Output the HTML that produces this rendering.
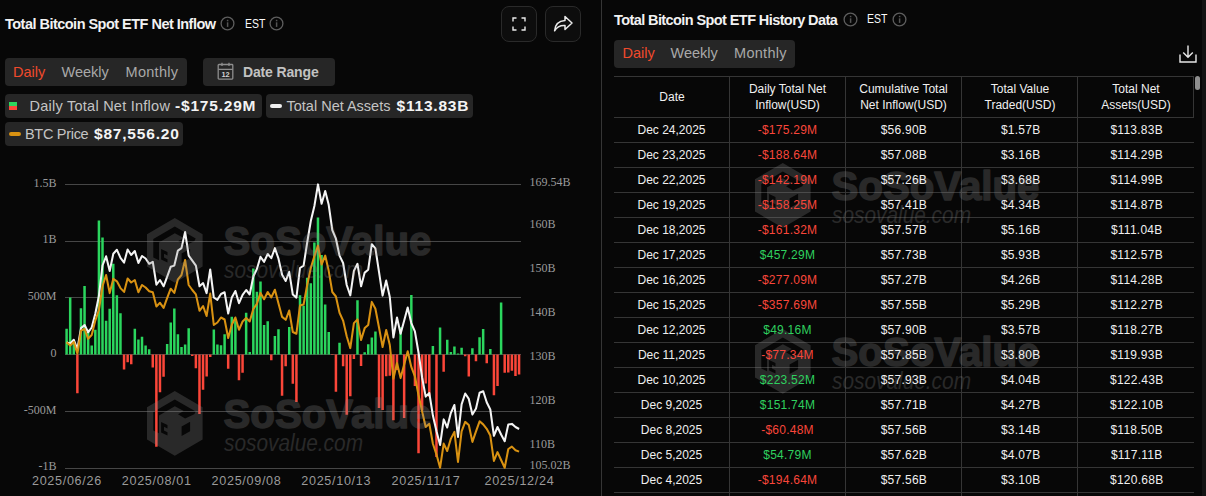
<!DOCTYPE html>
<html><head><meta charset="utf-8"><title>Total Bitcoin Spot ETF</title>
<style>
*{box-sizing:border-box;margin:0;padding:0}
html,body{width:1206px;height:496px;overflow:hidden;background:#070707}
body{position:relative;font-family:"Liberation Sans",sans-serif;color:#f0f0f0}
.abs{position:absolute}
.chart{position:absolute;left:0;top:0}
.wm{position:absolute;pointer-events:none}
.info{position:absolute}
.title{position:absolute;font-weight:bold;font-size:14.5px;line-height:16px;white-space:nowrap;color:#f2f2f2;letter-spacing:-0.52px}
.est{position:absolute;font-size:12.3px;line-height:16px;color:#fafafa;white-space:nowrap;transform:scaleX(0.85);transform-origin:0 0}
.tabs{position:absolute;background:#262626;border-radius:4px;height:28px}
.tab{position:absolute;top:0;line-height:28px;font-size:14.5px;color:#a9a9a9;white-space:nowrap}
.tab.on{color:#f04a2c}
.lg{position:absolute;background:#262626;border-radius:4px;height:24px}
.lg span{position:absolute;top:0;line-height:24px;white-space:nowrap}
.lg .n{font-size:14.5px;color:#c4c4c4;letter-spacing:0.25px}
.lg .v{font-size:15.5px;font-weight:bold;color:#f4f4f4;letter-spacing:0.8px}
.ybl{position:absolute;font-family:"Liberation Serif",serif;font-size:12px;line-height:14px;color:#9a9a9a;white-space:nowrap}
.xl{position:absolute;top:473.8px;font-size:12.6px;line-height:14px;color:#9a9a9a;white-space:nowrap;width:80px;text-align:center;letter-spacing:0.68px;text-indent:0.68px}
.ibtn{position:absolute;width:36px;height:36px;border:1px solid #2a2a2a;border-radius:8px;background:#0d0d0d}
.hl{position:absolute;height:1px;background:#353535}
.vl{position:absolute;width:1px;background:#353535}
.c{position:absolute;height:25px;line-height:24px;font-size:12px;text-align:center;color:#f0f0f0;white-space:nowrap}
.c.neg{color:#f9463a;letter-spacing:0.25px}
.c.num{letter-spacing:0.25px}
.c.num{padding-left:0.8px}
.c.sh{padding-left:2.4px}
.c.pos{color:#2fd05f;letter-spacing:0.25px}
.th{position:absolute;font-size:12px;line-height:16px;text-align:center;color:#f0f0f0}
</style></head><body>
<!-- LEFT PANEL -->
<div class="title" style="left:5px;top:16px" id="t1">Total Bitcoin Spot ETF Net Inflow</div>
<svg class="info" style="left:220.4px;top:16.4px" width="15" height="15" viewBox="0 0 15 15"><circle cx="7.5" cy="7.5" r="6.4" fill="none" stroke="#5e5e5e" stroke-width="1.3"/><rect x="6.85" y="6.3" width="1.5" height="4.6" fill="#555"/><rect x="6.85" y="3.8" width="1.5" height="1.5" fill="#555"/></svg>
<div class="est" style="left:244.8px;top:16px">EST</div>
<svg class="info" style="left:269.3px;top:16.4px" width="15" height="15" viewBox="0 0 15 15"><circle cx="7.5" cy="7.5" r="6.4" fill="none" stroke="#5e5e5e" stroke-width="1.3"/><rect x="6.85" y="6.3" width="1.5" height="4.6" fill="#555"/><rect x="6.85" y="3.8" width="1.5" height="1.5" fill="#555"/></svg>
<div class="ibtn" style="left:501px;top:6px"><svg width="34" height="34" viewBox="0 0 34 34"><path d="M11 14.5V11H14.5M19.5 11H23V14.5M23 19.5V23H19.5M14.5 23H11V19.5" fill="none" stroke="#eaeaea" stroke-width="1.4"/></svg></div>
<div class="ibtn" style="left:545px;top:6px"><svg width="34" height="34" viewBox="0 0 34 34"><path d="M19 9.5L26 16L19 22.5V18.6C14 18.3 10.8 20 8.6 23.8C9 18 12.5 13.8 19 13.4Z" fill="none" stroke="#eaeaea" stroke-width="1.5" stroke-linejoin="round"/></svg></div>
<div class="tabs" style="left:5px;top:58px;width:182px">
<span class="tab on" style="left:8px">Daily</span><span class="tab" style="left:56.5px">Weekly</span><span class="tab" style="left:120.5px;letter-spacing:0.3px">Monthly</span></div>
<div class="tabs" style="left:203px;top:58px;width:132px">
<svg class="abs" style="left:13.5px;top:4px" width="18" height="19" viewBox="0 0 18 19"><rect x="1.2" y="2.5" width="14.6" height="14.6" rx="0.8" fill="none" stroke="#8e8e8e" stroke-width="1.3"/><path d="M1.2 7.4H15.8M5 0.8V4M12 0.8V4" stroke="#8e8e8e" stroke-width="1.3" fill="none"/><text x="8.6" y="14.9" font-size="7.4" font-weight="bold" font-family="Liberation Sans, sans-serif" fill="#d2d2d2" text-anchor="middle">12</text></svg>
<span class="tab" style="left:40px;font-weight:bold;color:#c2c2c2;font-size:14px;letter-spacing:-0.15px">Date Range</span></div>
<div class="lg" style="left:5px;top:94px;width:257px"><i class="abs" style="left:4px;top:8px;width:8px;height:4px;background:#2bd65e"></i><i class="abs" style="left:4px;top:12px;width:8px;height:4px;background:#fb4639"></i>
<span class="n" style="left:24.5px">Daily Total Net Inflow</span><span class="v" style="left:170px">-$175.29M</span></div>
<div class="lg" style="left:266px;top:94px;width:206.5px"><i class="abs" style="left:4px;top:10px;width:12px;height:4px;border-radius:2px;background:#f0f0f0"></i>
<span class="n" style="left:20.5px;letter-spacing:0">Total Net Assets</span><span class="v" style="left:130.5px">$113.83B</span></div>
<div class="lg" style="left:5px;top:122px;width:178px"><i class="abs" style="left:4px;top:10px;width:12px;height:4px;border-radius:2px;background:#d99212"></i>
<span class="n" style="left:20px;letter-spacing:-0.3px">BTC Price</span><span class="v" style="left:89px">$87,556.20</span></div>
<svg class="chart" width="603" height="496" viewBox="0 0 603 496">
<rect x="65" y="184" width="456" height="1" fill="#464646"/>
<rect x="65" y="241" width="456" height="1" fill="#464646"/>
<rect x="65" y="297" width="456" height="1" fill="#464646"/>
<rect x="65" y="354" width="456" height="1" fill="#464646"/>
<rect x="65" y="411" width="456" height="1" fill="#464646"/>
<rect x="65" y="468" width="456" height="1" fill="#464646"/>
<path d="M65.35 328.83h2.5V354.5h-2.5zM68.94 297.59h2.5V354.5h-2.5zM72.53 342.91h2.5V354.5h-2.5zM79.71 308.15h2.5V354.5h-2.5zM83.30 286.11h2.5V354.5h-2.5zM86.90 329.85h2.5V354.5h-2.5zM90.49 345.41h2.5V354.5h-2.5zM94.08 329.74h2.5V354.5h-2.5zM97.67 220.45h2.5V354.5h-2.5zM101.26 237.49h2.5V354.5h-2.5zM104.85 320.76h2.5V354.5h-2.5zM108.44 308.72h2.5V354.5h-2.5zM112.03 263.73h2.5V354.5h-2.5zM115.62 295.20h2.5V354.5h-2.5zM119.22 313.26h2.5V354.5h-2.5zM133.58 328.71h2.5V354.5h-2.5zM137.17 339.62h2.5V354.5h-2.5zM140.76 336.66h2.5V354.5h-2.5zM144.35 345.41h2.5V354.5h-2.5zM147.94 349.16h2.5V354.5h-2.5zM165.90 344.11h2.5V354.5h-2.5zM169.49 322.58h2.5V354.5h-2.5zM173.08 308.61h2.5V354.5h-2.5zM176.67 334.28h2.5V354.5h-2.5zM180.26 347.00h2.5V354.5h-2.5zM183.85 344.62h2.5V354.5h-2.5zM187.44 328.26h2.5V354.5h-2.5zM212.58 329.62h2.5V354.5h-2.5zM216.17 344.50h2.5V354.5h-2.5zM219.76 345.30h2.5V354.5h-2.5zM223.35 334.17h2.5V354.5h-2.5zM230.54 316.67h2.5V354.5h-2.5zM234.13 320.31h2.5V354.5h-2.5zM244.90 312.70h2.5V354.5h-2.5zM248.49 351.89h2.5V354.5h-2.5zM252.08 268.50h2.5V354.5h-2.5zM255.67 291.68h2.5V354.5h-2.5zM259.26 281.57h2.5V354.5h-2.5zM262.86 324.96h2.5V354.5h-2.5zM266.45 321.33h2.5V354.5h-2.5zM273.63 335.98h2.5V354.5h-2.5zM277.22 329.28h2.5V354.5h-2.5zM287.99 327.12h2.5V354.5h-2.5zM298.76 295.20h2.5V354.5h-2.5zM302.36 305.65h2.5V354.5h-2.5zM305.95 277.71h2.5V354.5h-2.5zM309.54 283.27h2.5V354.5h-2.5zM313.13 242.60h2.5V354.5h-2.5zM316.72 217.61h2.5V354.5h-2.5zM320.31 254.99h2.5V354.5h-2.5zM323.90 304.40h2.5V354.5h-2.5zM327.49 332.01h2.5V354.5h-2.5zM338.27 342.80h2.5V354.5h-2.5zM356.22 300.31h2.5V354.5h-2.5zM363.40 352.23h2.5V354.5h-2.5zM366.99 344.21h2.5V354.5h-2.5zM370.59 337.57h2.5V354.5h-2.5zM374.18 331.55h2.5V354.5h-2.5zM399.31 327.24h2.5V354.5h-2.5zM406.50 354.37h2.5V354.5h-2.5zM410.09 294.97h2.5V354.5h-2.5zM431.63 345.98h2.5V354.5h-2.5zM438.81 327.46h2.5V354.5h-2.5zM446.00 339.85h2.5V354.5h-2.5zM449.59 352.11h2.5V354.5h-2.5zM453.18 346.43h2.5V354.5h-2.5zM456.77 353.53h2.5V354.5h-2.5zM460.36 347.85h2.5V354.5h-2.5zM471.13 348.28h2.5V354.5h-2.5zM478.32 337.26h2.5V354.5h-2.5zM481.91 329.11h2.5V354.5h-2.5zM489.09 348.92h2.5V354.5h-2.5zM499.86 302.55h2.5V354.5h-2.5z" fill="#2bd65e"/>
<path d="M76.12 354.5h2.5V393.35h-2.5zM122.81 354.5h2.5V369.38h-2.5zM126.40 354.5h2.5V362.22h-2.5zM129.99 354.5h2.5V364.27h-2.5zM151.53 354.5h2.5V367.56h-2.5zM155.12 354.5h2.5V446.74h-2.5zM158.72 354.5h2.5V392.33h-2.5zM162.31 354.5h2.5V376.77h-2.5zM191.03 354.5h2.5V356.09h-2.5zM194.63 354.5h2.5V368.36h-2.5zM198.22 354.5h2.5V413.91h-2.5zM201.81 354.5h2.5V389.83h-2.5zM205.40 354.5h2.5V376.54h-2.5zM208.99 354.5h2.5V357.11h-2.5zM226.94 354.5h2.5V368.81h-2.5zM237.72 354.5h2.5V380.29h-2.5zM241.31 354.5h2.5V372.68h-2.5zM270.04 354.5h2.5V360.29h-2.5zM280.81 354.5h2.5V395.74h-2.5zM284.40 354.5h2.5V366.20h-2.5zM291.58 354.5h2.5V383.81h-2.5zM295.17 354.5h2.5V401.98h-2.5zM331.08 354.5h2.5V355.01h-2.5zM334.67 354.5h2.5V391.65h-2.5zM341.86 354.5h2.5V366.31h-2.5zM345.45 354.5h2.5V414.82h-2.5zM349.04 354.5h2.5V396.19h-2.5zM352.63 354.5h2.5V359.04h-2.5zM359.81 354.5h2.5V365.97h-2.5zM377.77 354.5h2.5V408.01h-2.5zM381.36 354.5h2.5V409.94h-2.5zM384.95 354.5h2.5V376.31h-2.5zM388.54 354.5h2.5V375.74h-2.5zM392.13 354.5h2.5V420.16h-2.5zM395.72 354.5h2.5V370.06h-2.5zM402.90 354.5h2.5V417.89h-2.5zM413.68 354.5h2.5V386.08h-2.5zM417.27 354.5h2.5V453.33h-2.5zM420.86 354.5h2.5V410.39h-2.5zM424.45 354.5h2.5V383.47h-2.5zM428.04 354.5h2.5V396.87h-2.5zM435.22 354.5h2.5V457.08h-2.5zM442.40 354.5h2.5V371.65h-2.5zM463.95 354.5h2.5V356.19h-2.5zM467.54 354.5h2.5V376.61h-2.5zM474.72 354.5h2.5V361.37h-2.5zM485.50 354.5h2.5V363.29h-2.5zM492.68 354.5h2.5V395.13h-2.5zM496.27 354.5h2.5V385.98h-2.5zM503.45 354.5h2.5V372.83h-2.5zM507.04 354.5h2.5V372.48h-2.5zM510.63 354.5h2.5V370.65h-2.5zM514.23 354.5h2.5V375.93h-2.5zM517.82 354.5h2.5V374.41h-2.5z" fill="#fb4639"/>
<polyline points="66.6,342.5 70.2,343.5 73.8,339.8 77.4,349.0 81.0,328.1 84.6,325.0 88.1,332.3 91.7,327.5 95.3,313.8 98.9,296.0 102.5,265.5 106.1,256.3 109.7,271.0 113.3,253.8 116.9,249.8 120.5,257.8 124.1,262.6 127.6,249.5 131.2,255.0 134.8,251.0 138.4,263.0 142.0,256.0 145.6,258.5 149.2,263.8 152.8,261.8 156.4,284.7 160.0,280.0 163.6,286.3 167.1,276.9 170.7,266.8 174.3,265.6 177.9,250.6 181.5,248.1 185.1,232.0 188.7,255.6 192.3,260.6 195.9,265.6 199.5,286.3 203.1,283.1 206.6,293.1 210.2,269.5 213.8,297.5 217.4,299.8 221.0,294.0 224.6,292.3 228.2,313.5 231.8,297.4 235.4,291.0 239.0,303.2 242.6,294.8 246.2,290.0 249.7,294.5 253.3,276.5 256.9,269.0 260.5,256.8 264.1,261.8 267.7,254.0 271.3,258.2 274.9,248.1 278.5,258.7 282.1,274.8 285.7,281.0 289.2,271.8 292.8,294.5 296.4,297.6 300.0,268.0 303.6,265.6 307.2,242.5 310.8,221.0 314.4,206.0 318.0,184.4 321.6,203.8 325.2,191.0 328.7,204.8 332.3,230.2 335.9,238.7 339.5,255.6 343.1,263.0 346.7,285.0 350.3,295.4 353.9,270.9 357.5,263.8 361.1,286.3 364.7,272.6 368.2,269.7 371.8,244.2 375.4,248.4 379.0,271.8 382.6,295.6 386.2,280.6 389.8,297.0 393.4,337.5 397.0,317.5 400.6,333.8 404.2,320.6 407.7,307.5 411.3,323.1 414.9,331.3 418.5,352.5 422.1,377.5 425.7,396.6 429.3,393.0 432.9,415.6 436.5,431.3 440.1,445.0 443.7,419.4 447.2,427.5 450.8,413.1 454.4,405.0 458.0,436.9 461.6,404.4 465.2,393.5 468.8,398.9 472.4,414.6 476.0,408.5 479.6,392.7 483.2,391.2 486.7,402.2 490.3,409.5 493.9,435.8 497.5,427.0 501.1,434.5 504.7,441.2 508.3,424.4 511.9,423.9 515.5,427.0 519.1,429.0" fill="none" stroke="#f4f4f4" stroke-width="2.05" stroke-linejoin="round" stroke-linecap="butt"/>
<polyline points="66.6,342.3 70.2,345.6 73.8,341.9 77.4,353.8 81.0,330.6 84.6,329.0 88.1,338.8 91.7,335.0 95.3,320.6 98.9,310.0 102.5,286.3 106.1,275.0 109.7,293.1 113.3,278.8 116.9,281.3 120.5,288.1 124.1,291.9 127.6,278.5 131.2,282.5 134.8,280.0 138.4,292.3 142.0,285.0 145.6,287.5 149.2,291.3 152.8,292.3 156.4,306.5 160.0,302.8 163.6,307.8 167.1,298.1 170.7,288.7 174.3,292.9 177.9,279.3 181.5,275.0 185.1,260.0 188.7,285.0 192.3,290.0 195.9,294.4 199.5,310.8 203.1,306.0 206.6,316.0 210.2,293.6 213.8,325.0 217.4,322.5 221.0,317.5 224.6,319.5 228.2,338.0 231.8,324.7 235.4,317.5 239.0,329.8 242.6,321.5 246.2,318.0 249.7,321.5 253.3,309.0 256.9,303.8 260.5,292.9 264.1,299.3 267.7,292.0 271.3,297.4 274.9,289.8 278.5,303.6 282.1,316.9 285.7,319.8 289.2,310.5 292.8,332.0 296.4,333.7 300.0,305.6 303.6,304.5 307.2,285.0 310.8,268.0 314.4,256.0 318.0,245.6 321.6,264.5 325.2,255.6 328.7,270.8 332.3,292.0 335.9,296.5 339.5,312.8 343.1,320.6 346.7,336.3 350.3,348.1 353.9,323.1 357.5,319.4 361.1,340.0 364.7,328.1 368.2,325.0 371.8,301.9 375.4,308.8 379.0,327.5 382.6,347.0 386.2,330.0 389.8,345.0 393.4,378.8 397.0,363.1 400.6,378.1 404.2,364.4 407.7,351.3 411.3,366.9 414.9,376.3 418.5,395.0 422.1,411.3 425.7,426.9 429.3,423.8 432.9,443.8 436.5,454.6 440.1,467.7 443.7,443.6 447.2,451.0 450.8,438.9 454.4,431.9 458.0,462.0 461.6,431.3 465.2,421.9 468.8,425.0 472.4,441.9 476.0,431.3 479.6,421.3 483.2,424.4 486.7,428.8 490.3,435.6 493.9,460.9 497.5,452.1 501.1,460.0 504.7,467.7 508.3,449.0 511.9,446.6 515.5,450.2 519.1,451.6" fill="none" stroke="#d99212" stroke-width="2.05" stroke-linejoin="round" stroke-linecap="butt"/>
</svg>
<svg class="wm" style="left:144.8px;top:216.3px" width="300" height="72" viewBox="-2 -2 300 72"><g fill="#8a8a8a" opacity="0.26"><g transform="translate(27.8,32.4)"><path fill-rule="evenodd" d="M0,-32.4L27.8,-16.2L27.8,16.2L0,32.4L-27.8,16.2L-27.8,-16.2ZM-21.5,7.1L-21.5,-11.3L0,-24L20.9,-12L19.5,-9.2L10.3,-4.9L3.2,-9.2L9,-12.3L0,-17.2L-15.8,-7.8L-15.8,9.9ZM-13.7,-1.4L-7.3,1.7L-7.3,5L-10.8,3.3L-10.8,7.2L-7.3,8.9L-7.3,12.2L-13.7,9.1ZM6.8,3.1L15.3,-1.7L15.3,7.8L6.8,12.7Z"/></g><text x="76.5" y="37.3" font-family="Liberation Sans, sans-serif" font-weight="bold" font-size="41" textLength="208" lengthAdjust="spacingAndGlyphs" stroke="#8a8a8a" stroke-width="1.5" stroke-linejoin="round">SoSoValue</text><text x="77" y="59.6" font-family="Liberation Sans, sans-serif" font-style="italic" font-size="23" textLength="139" lengthAdjust="spacingAndGlyphs">sosovalue.com</text></g></svg>
<svg class="wm" style="left:144.8px;top:389px" width="300" height="72" viewBox="-2 -2 300 72"><g fill="#8a8a8a" opacity="0.26"><g transform="translate(27.8,32.4)"><path fill-rule="evenodd" d="M0,-32.4L27.8,-16.2L27.8,16.2L0,32.4L-27.8,16.2L-27.8,-16.2ZM-21.5,7.1L-21.5,-11.3L0,-24L20.9,-12L19.5,-9.2L10.3,-4.9L3.2,-9.2L9,-12.3L0,-17.2L-15.8,-7.8L-15.8,9.9ZM-13.7,-1.4L-7.3,1.7L-7.3,5L-10.8,3.3L-10.8,7.2L-7.3,8.9L-7.3,12.2L-13.7,9.1ZM6.8,3.1L15.3,-1.7L15.3,7.8L6.8,12.7Z"/></g><text x="76.5" y="37.3" font-family="Liberation Sans, sans-serif" font-weight="bold" font-size="41" textLength="208" lengthAdjust="spacingAndGlyphs" stroke="#8a8a8a" stroke-width="1.5" stroke-linejoin="round">SoSoValue</text><text x="77" y="59.6" font-family="Liberation Sans, sans-serif" font-style="italic" font-size="23" textLength="139" lengthAdjust="spacingAndGlyphs">sosovalue.com</text></g></svg>
<div class="ybl" style="left:0;width:56.4px;text-align:right;top:175.6px">1.5B</div>
<div class="ybl" style="left:0;width:56.4px;text-align:right;top:232.4px">1B</div>
<div class="ybl" style="left:0;width:56.4px;text-align:right;top:289.1px">500M</div>
<div class="ybl" style="left:0;width:56.4px;text-align:right;top:345.8px">0</div>
<div class="ybl" style="left:0;width:56.4px;text-align:right;top:402.5px">-500M</div>
<div class="ybl" style="left:0;width:56.4px;text-align:right;top:459.3px">-1B</div>
<div class="ybl" style="left:529.5px;top:174.7px">169.54B</div>
<div class="ybl" style="left:529.5px;top:217.2px">160B</div>
<div class="ybl" style="left:529.5px;top:261.1px">150B</div>
<div class="ybl" style="left:529.5px;top:305px">140B</div>
<div class="ybl" style="left:529.5px;top:348.9px">130B</div>
<div class="ybl" style="left:529.5px;top:392.8px">120B</div>
<div class="ybl" style="left:529.5px;top:436.7px">110B</div>
<div class="ybl" style="left:529.5px;top:458.2px">105.02B</div>
<div class="xl" style="left:26.6px">2025/06/26</div>
<div class="xl" style="left:116.4px">2025/08/01</div>
<div class="xl" style="left:206.2px">2025/09/08</div>
<div class="xl" style="left:295.9px">2025/10/13</div>
<div class="xl" style="left:385.7px">2025/11/17</div>
<div class="xl" style="left:479.1px">2025/12/24</div>
<div class="vl" style="left:601px;top:0;height:496px"></div>
<!-- RIGHT PANEL -->
<div class="title" style="left:614px;top:11.5px;letter-spacing:-0.59px" id="t2">Total Bitcoin Spot ETF History Data</div>
<svg class="info" style="left:843px;top:11.5px" width="15" height="15" viewBox="0 0 15 15"><circle cx="7.5" cy="7.5" r="6.4" fill="none" stroke="#5e5e5e" stroke-width="1.3"/><rect x="6.85" y="6.3" width="1.5" height="4.6" fill="#555"/><rect x="6.85" y="3.8" width="1.5" height="1.5" fill="#555"/></svg>
<div class="est" style="left:867px;top:11px">EST</div>
<svg class="info" style="left:892px;top:11.5px" width="15" height="15" viewBox="0 0 15 15"><circle cx="7.5" cy="7.5" r="6.4" fill="none" stroke="#5e5e5e" stroke-width="1.3"/><rect x="6.85" y="6.3" width="1.5" height="4.6" fill="#555"/><rect x="6.85" y="3.8" width="1.5" height="1.5" fill="#555"/></svg>
<div class="tabs" style="left:614px;top:40px;width:181px;height:27.5px">
<span class="tab on" style="left:8.5px;line-height:27.5px">Daily</span><span class="tab" style="left:56.5px;line-height:27.5px">Weekly</span><span class="tab" style="left:120px;line-height:27.5px;letter-spacing:0.3px">Monthly</span></div>
<svg class="abs" style="left:1177px;top:43px" width="22" height="22" viewBox="0 0 22 22"><path d="M11 2.5V14M6.2 9.6L11 14.3L15.8 9.6M3 11.5V19H19V11.5" fill="none" stroke="#e8e8e8" stroke-width="1.4"/></svg>
<div class="hl" style="left:614px;top:76px;width:580px"></div>
<div class="hl" style="left:614px;top:117px;width:580px"></div><div class="hl" style="left:614px;top:142px;width:580px"></div><div class="hl" style="left:614px;top:167px;width:580px"></div><div class="hl" style="left:614px;top:192px;width:580px"></div><div class="hl" style="left:614px;top:217px;width:580px"></div><div class="hl" style="left:614px;top:242px;width:580px"></div><div class="hl" style="left:614px;top:267px;width:580px"></div><div class="hl" style="left:614px;top:292px;width:580px"></div><div class="hl" style="left:614px;top:317px;width:580px"></div><div class="hl" style="left:614px;top:342px;width:580px"></div><div class="hl" style="left:614px;top:367px;width:580px"></div><div class="hl" style="left:614px;top:392px;width:580px"></div><div class="hl" style="left:614px;top:417px;width:580px"></div><div class="hl" style="left:614px;top:442px;width:580px"></div><div class="hl" style="left:614px;top:467px;width:580px"></div><div class="hl" style="left:614px;top:492px;width:580px"></div>
<div class="vl" style="left:729px;top:76px;height:420px"></div>
<div class="vl" style="left:845px;top:76px;height:420px"></div>
<div class="vl" style="left:961px;top:76px;height:420px"></div>
<div class="vl" style="left:1077px;top:76px;height:420px"></div>
<div class="vl" style="left:1193px;top:76px;height:41px"></div>
<div class="th" style="left:614px;width:116px;top:89px">Date</div>
<div class="th" style="left:730px;width:115px;top:81px">Daily Total Net<br>Inflow(USD)</div>
<div class="th" style="left:845px;width:117px;top:81px">Cumulative Total<br>Net Inflow(USD)</div>
<div class="th" style="left:962px;width:116px;top:81px">Total Value<br>Traded(USD)</div>
<div class="th" style="left:1078px;width:116px;top:81px">Total Net<br>Assets(USD)</div>
<svg class="wm" style="left:752.6px;top:161.3px" width="300" height="72" viewBox="-2 -2 300 72"><g fill="#8a8a8a" opacity="0.26"><g transform="translate(27.8,32.4)"><path fill-rule="evenodd" d="M0,-32.4L27.8,-16.2L27.8,16.2L0,32.4L-27.8,16.2L-27.8,-16.2ZM-21.5,7.1L-21.5,-11.3L0,-24L20.9,-12L19.5,-9.2L10.3,-4.9L3.2,-9.2L9,-12.3L0,-17.2L-15.8,-7.8L-15.8,9.9ZM-13.7,-1.4L-7.3,1.7L-7.3,5L-10.8,3.3L-10.8,7.2L-7.3,8.9L-7.3,12.2L-13.7,9.1ZM6.8,3.1L15.3,-1.7L15.3,7.8L6.8,12.7Z"/></g><text x="76.5" y="37.3" font-family="Liberation Sans, sans-serif" font-weight="bold" font-size="41" textLength="208" lengthAdjust="spacingAndGlyphs" stroke="#8a8a8a" stroke-width="1.5" stroke-linejoin="round">SoSoValue</text><text x="77" y="59.6" font-family="Liberation Sans, sans-serif" font-style="italic" font-size="23" textLength="139" lengthAdjust="spacingAndGlyphs">sosovalue.com</text></g></svg>
<svg class="wm" style="left:752.6px;top:327.1px" width="300" height="72" viewBox="-2 -2 300 72"><g fill="#8a8a8a" opacity="0.26"><g transform="translate(27.8,32.4)"><path fill-rule="evenodd" d="M0,-32.4L27.8,-16.2L27.8,16.2L0,32.4L-27.8,16.2L-27.8,-16.2ZM-21.5,7.1L-21.5,-11.3L0,-24L20.9,-12L19.5,-9.2L10.3,-4.9L3.2,-9.2L9,-12.3L0,-17.2L-15.8,-7.8L-15.8,9.9ZM-13.7,-1.4L-7.3,1.7L-7.3,5L-10.8,3.3L-10.8,7.2L-7.3,8.9L-7.3,12.2L-13.7,9.1ZM6.8,3.1L15.3,-1.7L15.3,7.8L6.8,12.7Z"/></g><text x="76.5" y="37.3" font-family="Liberation Sans, sans-serif" font-weight="bold" font-size="41" textLength="208" lengthAdjust="spacingAndGlyphs" stroke="#8a8a8a" stroke-width="1.5" stroke-linejoin="round">SoSoValue</text><text x="77" y="59.6" font-family="Liberation Sans, sans-serif" font-style="italic" font-size="23" textLength="139" lengthAdjust="spacingAndGlyphs">sosovalue.com</text></g></svg>
<div class="c" style="left:614px;top:117.5px;width:115px">Dec 24,2025</div>
<div class="c neg" style="left:730px;top:117.5px;width:115px">-$175.29M</div>
<div class="c num" style="left:846px;top:117.5px;width:115px">$56.90B</div>
<div class="c num sh" style="left:962px;top:117.5px;width:115px">$1.57B</div>
<div class="c num sh" style="left:1078px;top:117.5px;width:115px">$113.83B</div>
<div class="c" style="left:614px;top:142.5px;width:115px">Dec 23,2025</div>
<div class="c neg" style="left:730px;top:142.5px;width:115px">-$188.64M</div>
<div class="c num" style="left:846px;top:142.5px;width:115px">$57.08B</div>
<div class="c num sh" style="left:962px;top:142.5px;width:115px">$3.16B</div>
<div class="c num sh" style="left:1078px;top:142.5px;width:115px">$114.29B</div>
<div class="c" style="left:614px;top:167.5px;width:115px">Dec 22,2025</div>
<div class="c neg" style="left:730px;top:167.5px;width:115px">-$142.19M</div>
<div class="c num" style="left:846px;top:167.5px;width:115px">$57.26B</div>
<div class="c num sh" style="left:962px;top:167.5px;width:115px">$3.68B</div>
<div class="c num sh" style="left:1078px;top:167.5px;width:115px">$114.99B</div>
<div class="c" style="left:614px;top:192.5px;width:115px">Dec 19,2025</div>
<div class="c neg" style="left:730px;top:192.5px;width:115px">-$158.25M</div>
<div class="c num" style="left:846px;top:192.5px;width:115px">$57.41B</div>
<div class="c num sh" style="left:962px;top:192.5px;width:115px">$4.34B</div>
<div class="c num sh" style="left:1078px;top:192.5px;width:115px">$114.87B</div>
<div class="c" style="left:614px;top:217.5px;width:115px">Dec 18,2025</div>
<div class="c neg" style="left:730px;top:217.5px;width:115px">-$161.32M</div>
<div class="c num" style="left:846px;top:217.5px;width:115px">$57.57B</div>
<div class="c num sh" style="left:962px;top:217.5px;width:115px">$5.16B</div>
<div class="c num sh" style="left:1078px;top:217.5px;width:115px">$111.04B</div>
<div class="c" style="left:614px;top:242.5px;width:115px">Dec 17,2025</div>
<div class="c pos" style="left:730px;top:242.5px;width:115px">$457.29M</div>
<div class="c num" style="left:846px;top:242.5px;width:115px">$57.73B</div>
<div class="c num sh" style="left:962px;top:242.5px;width:115px">$5.93B</div>
<div class="c num sh" style="left:1078px;top:242.5px;width:115px">$112.57B</div>
<div class="c" style="left:614px;top:267.5px;width:115px">Dec 16,2025</div>
<div class="c neg" style="left:730px;top:267.5px;width:115px">-$277.09M</div>
<div class="c num" style="left:846px;top:267.5px;width:115px">$57.27B</div>
<div class="c num sh" style="left:962px;top:267.5px;width:115px">$4.26B</div>
<div class="c num sh" style="left:1078px;top:267.5px;width:115px">$114.28B</div>
<div class="c" style="left:614px;top:292.5px;width:115px">Dec 15,2025</div>
<div class="c neg" style="left:730px;top:292.5px;width:115px">-$357.69M</div>
<div class="c num" style="left:846px;top:292.5px;width:115px">$57.55B</div>
<div class="c num sh" style="left:962px;top:292.5px;width:115px">$5.29B</div>
<div class="c num sh" style="left:1078px;top:292.5px;width:115px">$112.27B</div>
<div class="c" style="left:614px;top:317.5px;width:115px">Dec 12,2025</div>
<div class="c pos" style="left:730px;top:317.5px;width:115px">$49.16M</div>
<div class="c num" style="left:846px;top:317.5px;width:115px">$57.90B</div>
<div class="c num sh" style="left:962px;top:317.5px;width:115px">$3.57B</div>
<div class="c num sh" style="left:1078px;top:317.5px;width:115px">$118.27B</div>
<div class="c" style="left:614px;top:342.5px;width:115px">Dec 11,2025</div>
<div class="c neg" style="left:730px;top:342.5px;width:115px">-$77.34M</div>
<div class="c num" style="left:846px;top:342.5px;width:115px">$57.85B</div>
<div class="c num sh" style="left:962px;top:342.5px;width:115px">$3.80B</div>
<div class="c num sh" style="left:1078px;top:342.5px;width:115px">$119.93B</div>
<div class="c" style="left:614px;top:367.5px;width:115px">Dec 10,2025</div>
<div class="c pos" style="left:730px;top:367.5px;width:115px">$223.52M</div>
<div class="c num" style="left:846px;top:367.5px;width:115px">$57.93B</div>
<div class="c num sh" style="left:962px;top:367.5px;width:115px">$4.04B</div>
<div class="c num sh" style="left:1078px;top:367.5px;width:115px">$122.43B</div>
<div class="c" style="left:614px;top:392.5px;width:115px">Dec 9,2025</div>
<div class="c pos" style="left:730px;top:392.5px;width:115px">$151.74M</div>
<div class="c num" style="left:846px;top:392.5px;width:115px">$57.71B</div>
<div class="c num sh" style="left:962px;top:392.5px;width:115px">$4.27B</div>
<div class="c num sh" style="left:1078px;top:392.5px;width:115px">$122.10B</div>
<div class="c" style="left:614px;top:417.5px;width:115px">Dec 8,2025</div>
<div class="c neg" style="left:730px;top:417.5px;width:115px">-$60.48M</div>
<div class="c num" style="left:846px;top:417.5px;width:115px">$57.56B</div>
<div class="c num sh" style="left:962px;top:417.5px;width:115px">$3.14B</div>
<div class="c num sh" style="left:1078px;top:417.5px;width:115px">$118.50B</div>
<div class="c" style="left:614px;top:442.5px;width:115px">Dec 5,2025</div>
<div class="c pos" style="left:730px;top:442.5px;width:115px">$54.79M</div>
<div class="c num" style="left:846px;top:442.5px;width:115px">$57.62B</div>
<div class="c num sh" style="left:962px;top:442.5px;width:115px">$4.07B</div>
<div class="c num sh" style="left:1078px;top:442.5px;width:115px">$117.11B</div>
<div class="c" style="left:614px;top:467.5px;width:115px">Dec 4,2025</div>
<div class="c neg" style="left:730px;top:467.5px;width:115px">-$194.64M</div>
<div class="c num" style="left:846px;top:467.5px;width:115px">$57.56B</div>
<div class="c num sh" style="left:962px;top:467.5px;width:115px">$3.10B</div>
<div class="c num sh" style="left:1078px;top:467.5px;width:115px">$120.68B</div>
<div class="abs" style="left:1194.5px;top:76px;width:5px;height:14px;border-radius:2.5px;background:#8f8f8f"></div>
<div class="abs" style="left:1202px;top:0;width:4px;height:496px;background:#131313"></div>
</body></html>
